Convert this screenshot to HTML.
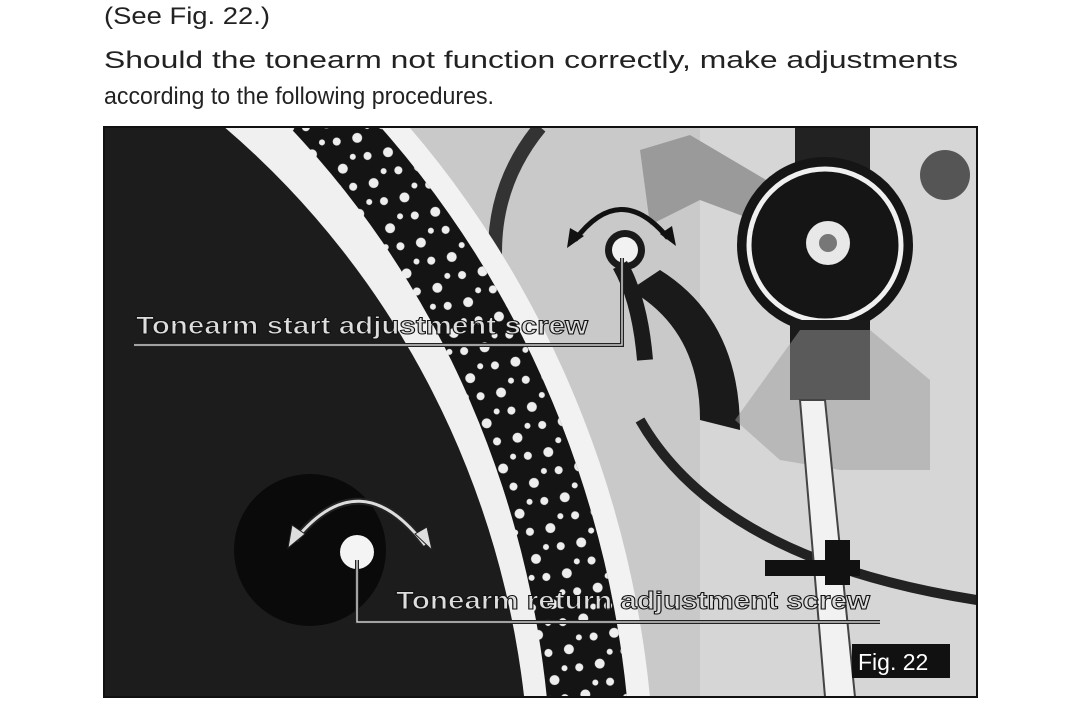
<!DOCTYPE html>
<html style="overflow:hidden"><head><meta charset="utf-8"><style>
html,body{margin:0;width:1084px;height:715px;overflow:hidden}
body{background:#fff;position:relative;font-family:"Liberation Sans",sans-serif;}
</style></head><body>
<svg style="position:absolute;left:0;top:0;display:block" width="1084" height="715">
<defs>
<clipPath id="ph"><rect x="104" y="127" width="873" height="570"/></clipPath>
<pattern id="dots" width="34" height="34" patternUnits="userSpaceOnUse" patternTransform="rotate(25)">
<circle cx="8" cy="8" r="5" fill="#eee"/><circle cx="25" cy="20" r="4" fill="#eee"/><circle cx="12" cy="27" r="3" fill="#eee"/>
</pattern>
</defs>
<g font-family="Liberation Sans, sans-serif" font-size="24" fill="#222">
<text x="104" y="24" textLength="166" lengthAdjust="spacingAndGlyphs">(See Fig. 22.)</text>
<text x="104" y="68" textLength="854" lengthAdjust="spacingAndGlyphs">Should the tonearm not function correctly, make adjustments</text>
<text x="104" y="104" textLength="390" lengthAdjust="spacingAndGlyphs">according to the following procedures.</text>
</g>
<g clip-path="url(#ph)">
<rect x="104" y="127" width="873" height="570" fill="#c9c9c9"/>
<rect x="700" y="127" width="277" height="570" fill="#d6d6d6"/>
<path d="M540 127 Q480 200 500 300" stroke="#333" stroke-width="14" fill="none"/>
<path d="M640 420 Q720 560 977 600" stroke="#222" stroke-width="10" fill="none"/>
<ellipse cx="-300" cy="800" rx="955" ry="1005" fill="#f2f2f2"/>
<ellipse cx="-300" cy="800" rx="932" ry="985" fill="#141414"/>
<ellipse cx="-300" cy="800" rx="932" ry="985" fill="url(#dots)"/>
<ellipse cx="-300" cy="800" rx="852" ry="932" fill="#f0f0f0"/>
<ellipse cx="-300" cy="800" rx="830" ry="868" fill="#1c1c1c"/>
<circle cx="310" cy="550" r="76" fill="#0a0a0a"/>
<circle cx="357" cy="552" r="17" fill="#f4f4f4"/>
<path d="M640 150 L690 135 L800 200 L780 230 L700 200 L650 225 Z" fill="#9a9a9a"/>
<path d="M630 290 Q700 330 700 420 L740 430 Q740 320 660 270 Z" fill="#1a1a1a"/>
<rect x="795" y="127" width="75" height="60" fill="#222"/>
<circle cx="825" cy="245" r="88" fill="#151515"/>
<circle cx="825" cy="245" r="76" fill="none" stroke="#f0f0f0" stroke-width="5"/>
<circle cx="828" cy="243" r="22" fill="#e8e8e8"/>
<circle cx="828" cy="243" r="9" fill="#777"/>
<path d="M790 320 L870 320 L870 400 L790 400 Z" fill="#1a1a1a"/>
<path d="M735 420 L800 330 L870 330 L930 380 L930 470 L840 470 L780 460 Z" fill="#999" opacity="0.5"/>
<circle cx="945" cy="175" r="25" fill="#555"/>
<path d="M800 400 L825 400 L855 697 L825 697 Z" fill="#f2f2f2" stroke="#444" stroke-width="2"/>
<rect x="765" y="560" width="95" height="16" fill="#111"/>
<rect x="825" y="540" width="25" height="45" fill="#111"/>
<circle cx="625" cy="250" r="20" fill="#1a1a1a"/>
<circle cx="625" cy="250" r="13" fill="#f2f2f2"/>
<path d="M620 265 Q640 300 645 360" stroke="#1a1a1a" stroke-width="16" fill="none"/>
<path d="M575 240 Q620 180 668 238" stroke="#111" stroke-width="5" fill="none"/>
<path d="M567 248 L570 228 L584 236 Z" fill="#111"/>
<path d="M676 246 L660 234 L672 226 Z" fill="#111"/>
<path d="M295 540 Q360 460 425 545" stroke="#222" stroke-width="7" fill="none"/>
<path d="M295 540 Q360 460 425 545" stroke="#ddd" stroke-width="3" fill="none"/>
<path d="M288 548 L292 525 L305 534 Z" fill="#ddd" stroke="#222"/>
<path d="M432 550 L415 534 L427 527 Z" fill="#ddd" stroke="#222"/>
<path d="M134 345 L622 345 L622 258" stroke="#222" stroke-width="4" fill="none"/>
<path d="M134 345 L622 345 L622 258" stroke="#ccc" stroke-width="1.5" fill="none"/>
<path d="M357 560 L357 622 L880 622" stroke="#222" stroke-width="4" fill="none"/>
<path d="M357 560 L357 622 L880 622" stroke="#ccc" stroke-width="1.5" fill="none"/>
<g font-family="Liberation Sans, sans-serif" font-size="25" font-weight="bold" fill="#ddd" stroke="#111" stroke-width="1">
<text x="136" y="334" textLength="452" lengthAdjust="spacingAndGlyphs">Tonearm start adjustment screw</text>
<text x="396" y="609" textLength="474" lengthAdjust="spacingAndGlyphs">Tonearm return adjustment screw</text>
</g>
<rect x="852" y="644" width="98" height="34" fill="#111"/>
<text x="858" y="670" font-family="Liberation Sans, sans-serif" font-size="23" fill="#fff">Fig. 22</text>
</g>
<rect x="104" y="127" width="873" height="570" fill="none" stroke="#111" stroke-width="2"/>
</svg>
</body></html>
